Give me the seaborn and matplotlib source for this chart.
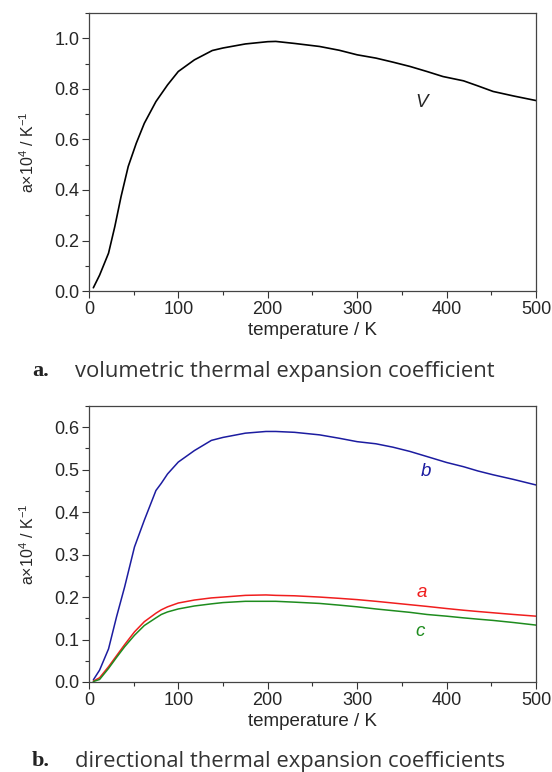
import matplotlib.pyplot as plt
from matplotlib.ticker import MultipleLocator
import seaborn as sns
import pandas as pd

# ===================== DATOS =====================

# Panel a: coeficiente volumétrico
temp_v = [5, 12, 22, 29, 36, 44, 53, 62, 75, 88, 100, 118, 138, 150, 175, 200,
          209, 230, 258, 280, 300, 321, 340, 359, 378, 396, 419, 435, 452, 475, 500]
alpha_v = [0.013, 0.063, 0.15, 0.255, 0.374, 0.493, 0.585, 0.664, 0.75, 0.816,
           0.869, 0.915, 0.952, 0.962, 0.978, 0.987, 0.988, 0.98, 0.968, 0.953,
           0.935, 0.922, 0.906, 0.889, 0.869, 0.849, 0.832, 0.812, 0.79, 0.772,
           0.754]

# Panel b: coeficientes direccionales
temp_d = [5, 12, 22, 31, 40, 51, 62, 75, 81, 88, 100, 118, 137, 150, 175, 198, 209,
          230, 258, 280, 300, 321, 340, 359, 378, 400, 419, 435, 452, 475, 500]
alpha_b = [0.005, 0.028, 0.078, 0.154, 0.224, 0.318, 0.381, 0.451, 0.468, 0.49,
           0.518, 0.545, 0.569, 0.576, 0.586, 0.59, 0.59, 0.588, 0.582, 0.574,
           0.566, 0.561, 0.553, 0.543, 0.531, 0.517, 0.507, 0.497, 0.488, 0.477,
           0.464]
alpha_a = [0.002, 0.01, 0.036, 0.062, 0.088, 0.118, 0.142, 0.162, 0.17, 0.177,
           0.186, 0.193, 0.198, 0.2, 0.204, 0.205, 0.204, 0.203, 0.2, 0.197,
           0.194, 0.19, 0.186, 0.182, 0.178, 0.173, 0.169, 0.166, 0.163, 0.159,
           0.155]
alpha_c = [0.001, 0.006, 0.032, 0.058, 0.083, 0.11, 0.133, 0.151, 0.159, 0.165,
           0.172, 0.179, 0.184, 0.187, 0.19, 0.19, 0.19, 0.188, 0.185, 0.181,
           0.177, 0.172, 0.168, 0.164, 0.159, 0.155, 0.151, 0.148, 0.145, 0.14,
           0.134]

axis_names = ["b", "a", "c"]
axis_colors = ["#1c1ca0", "#f01e1e", "#1e8c1e"]

captions = ["volumetric thermal expansion coefficient",
            "directional thermal expansion coefficients"]

# ===================== ESTILO =====================

sns.set_style("ticks")
plt.rcParams["font.family"] = ["Liberation Sans", "DejaVu Sans"]
plt.rcParams["mathtext.fontset"] = "custom"
plt.rcParams["mathtext.rm"] = "Liberation Sans"


def style_axes(ax, ymax, ymajor, yminor):
    ax.set_xlim(0, 500)
    ax.set_ylim(0, ymax)
    ax.xaxis.set_major_locator(MultipleLocator(100))
    ax.xaxis.set_minor_locator(MultipleLocator(50))
    ax.yaxis.set_major_locator(MultipleLocator(ymajor))
    ax.yaxis.set_minor_locator(MultipleLocator(yminor))
    ax.yaxis.set_major_formatter(lambda v, p: f"{v:.1f}")
    ax.tick_params(which="major", length=5, width=0.8, labelsize=13,
                   color="#333333", pad=2)
    ax.tick_params(which="minor", length=3, width=0.8, color="#333333")
    for s in ax.spines.values():
        s.set_linewidth(0.9)
        s.set_color("#444444")
    ax.set_xlabel("temperature / K", fontsize=13.5, labelpad=3)
    ax.set_ylabel(r"a$\times$10$^{4}$ / K$^{-1}$", fontsize=11.5, labelpad=12)


fig = plt.figure(figsize=(5.52, 7.72), dpi=100)

# ===================== PANEL A =====================

ax1 = fig.add_axes([0.161, 0.623, 0.810, 0.360])
sns.lineplot(x=temp_v, y=alpha_v, color="black", linewidth=1.2, ax=ax1)
style_axes(ax1, 1.1, 0.2, 0.1)
ax1.text(372, 0.745, "V", style="italic", fontsize=13.5, ha="center", va="center")

# ===================== PANEL B =====================

dir_df = pd.DataFrame({
    "temperature": temp_d * 3,
    "alpha": alpha_b + alpha_a + alpha_c,
    "eje": [n for n in axis_names for _ in temp_d],
})

ax2 = fig.add_axes([0.161, 0.1166, 0.810, 0.3575])
sns.lineplot(data=dir_df, x="temperature", y="alpha", hue="eje",
             palette=dict(zip(axis_names, axis_colors)), linewidth=1.1,
             legend=False, ax=ax2)
style_axes(ax2, 0.65, 0.1, 0.05)

label_pos = {"b": (377, 0.496), "a": (372, 0.211), "c": (370, 0.12)}
for name, color in zip(axis_names, axis_colors):
    x, y = label_pos[name]
    ax2.text(x, y, name, style="italic", fontsize=13.5, color=color,
             ha="center", va="center")

# ===================== LEYENDAS =====================

for ypos, letter, cap in [(0.5194, "a.", captions[0]), (0.0142, "b.", captions[1])]:
    fig.text(0.058, ypos, letter, fontsize=16, fontweight="bold",
             family="Liberation Serif", color="#222222", va="center")
    fig.text(0.136, ypos, cap, fontsize=15.8, family="Open Sans",
             color="#333333", va="center")

fig.savefig("out.png", dpi=100)
